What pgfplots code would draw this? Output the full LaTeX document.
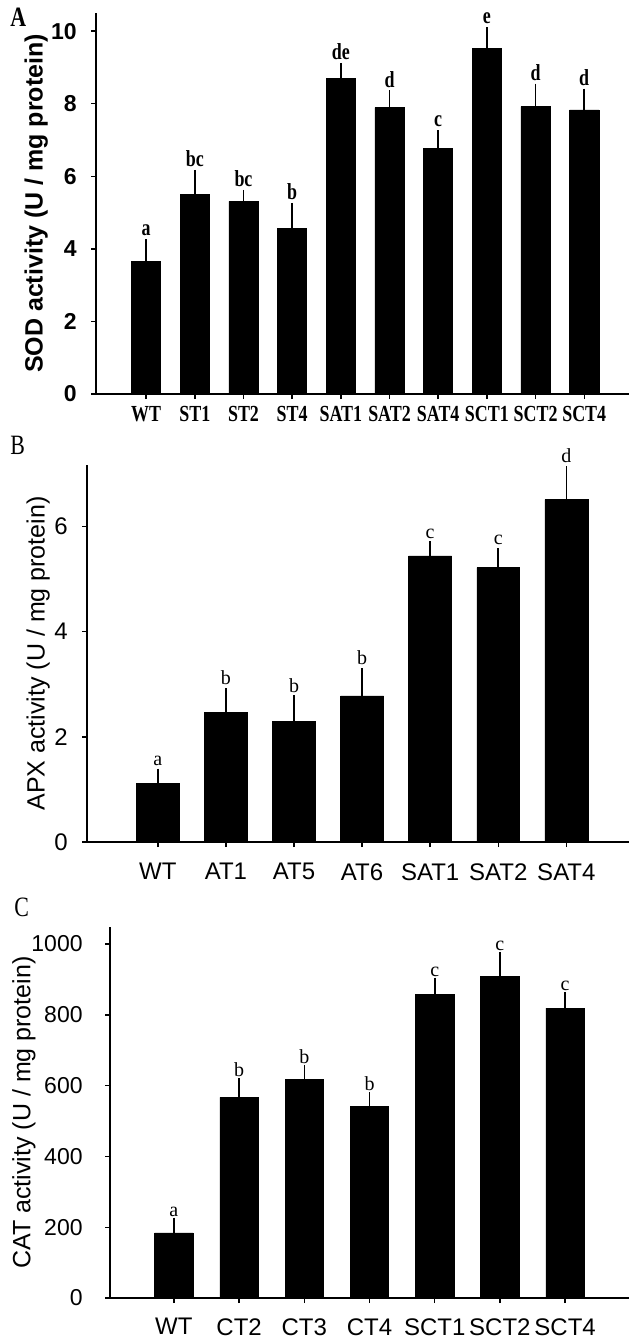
\documentclass[border=0pt]{standalone}
\usepackage{pgfplots}
\usepackage{pgfplotstable}
\pgfplotsset{compat=1.18}
\usepackage{fontspec}
\setmainfont{Liberation Sans}
\newfontfamily\serifN{Liberation Serif}[FakeStretch=0.78]
\newfontfamily\serifR{Liberation Serif}

\pgfplotstableread{
x y e t l
0 3.66 0.45 4.11 a
1 5.50 0.52 6.02 bc
2 5.31 0.16 5.47 bc
3 4.57 0.54 5.11 b
4 8.69 0.28 8.97 de
5 7.89 0.32 8.21 d
6 6.76 0.36 7.12 c
7 9.53 0.42 9.95 e
8 7.92 0.48 8.40 d
9 7.83 0.43 8.26 d
}\dataA

\pgfplotstableread{
x y e t l
0 1.11 0.18 1.29 a
1 2.47 0.35 2.82 b
2 2.30 0.38 2.68 b
3 2.78 0.42 3.20 b
4 5.44 0.17 5.61 c
5 5.22 0.26 5.48 c
6 6.51 0.53 7.04 d
}\dataB

\pgfplotstableread{
x y e t l
0 184 27 211 a
1 567 38 605 b
2 617 26 643 b
3 542 24 566 b
4 857 32 889 c
5 909 53 962 c
6 819 29 848 c
}\dataC

\pgfplotsset{
  panel/.style={
    scale only axis,
    axis lines*=left,
    axis line style={line width=0.7pt, black},
    tick align=outside,
    major tick length=2.5pt,
    tick style={line width=0.7pt, black},
    /pgf/number format/assume math mode=true,
    /pgf/number format/1000 sep={},
    ymin=0,
    xtick={0,...,9},
    clip=false,
  },
  barplot/.style={ybar, fill=black, draw=black, line width=0.3pt,
    error bars/y dir=plus, error bars/y explicit,
    error bars/error bar style={line width=0.8pt, black},
    error bars/error mark options={line width=0.8pt, mark size=2.8pt, black}},
  letters/.style={draw=none, mark=none, nodes near coords,
    point meta=explicit symbolic,
    every node near coord/.append style={anchor=base, inner sep=0pt, yshift=#1}},
}

\begin{document}
\begin{tikzpicture}
% Panel A
\begin{axis}[panel,
  at={(48pt,-197pt)}, anchor=south west,
  width=266.5pt, height=190.5pt,
  xmin=-1.03, xmax=9.92, ymax=10.5,
  ytick={0,2,4,6,8,10},
  xticklabels={WT,ST1,ST2,ST4,SAT1,SAT2,SAT4,SCT1,SCT2,SCT4},
  xticklabel style={font=\serifN\bfseries\fontsize{11.5}{13}\selectfont, inner sep=0pt, yshift=-3.5pt},
  yticklabel style={font=\bfseries\fontsize{11.5}{13}\selectfont, inner sep=0pt, xshift=-7pt},
  ylabel={SOD activity (U / mg protein)},
  ylabel style={font=\bfseries\fontsize{12.5}{15}\selectfont, at={(axis description cs:-0.112,0.5)}, anchor=center},
]
\addplot[barplot, bar width=0.6] table[x=x, y=y, y error=e] {\dataA};
\addplot[letters=4.5pt, nodes near coords style={font=\serifN\bfseries\fontsize{11.5}{13}\selectfont}] table[x=x, y=t, meta=l] {\dataA};
\end{axis}
% Panel B
\begin{axis}[panel,
  at={(43.5pt,-421pt)}, anchor=south west,
  width=271pt, height=188.5pt,
  xmin=-1.04, xmax=6.92, ymax=7.17,
  ytick={0,2,4,6},
  xticklabels={WT,AT1,AT5,AT6,SAT1,SAT2,SAT4},
  xticklabel style={font=\fontsize{12}{14}\selectfont, inner sep=0pt, yshift=-8pt},
  yticklabel style={font=\fontsize{12}{14}\selectfont, inner sep=0pt, xshift=-7pt},
  ylabel={APX activity (U / mg protein)},
  ylabel style={font=\fontsize{12.5}{14}\selectfont, at={(axis description cs:-0.090,0.5)}, anchor=center},
]
\addplot[barplot, bar width=0.63] table[x=x, y=y, y error=e] {\dataB};
\addplot[letters=4.5pt, nodes near coords style={font=\serifR\fontsize{10}{12}\selectfont}] table[x=x, y=t, meta=l] {\dataB};
\end{axis}
% Panel C
\begin{axis}[panel,
  at={(55pt,-649pt)}, anchor=south west,
  width=259.5pt, height=185.5pt,
  xmin=-0.98, xmax=6.98, ymax=1048,
  ytick={0,200,400,600,800,1000},
  xticklabel style={font=\fontsize{12}{14}\selectfont, inner sep=0pt, yshift=-7.5pt},
  xticklabels={WT,CT2,CT3,CT4,SCT1,SCT2,SCT4},
  yticklabel style={font=\fontsize{11.5}{13}\selectfont, inner sep=0pt, xshift=-11pt},
  ylabel={CAT activity (U / mg protein)},
  ylabel style={font=\fontsize{12.5}{14}\selectfont, at={(axis description cs:-0.166,0.5)}, anchor=center},
]
\addplot[barplot, bar width=0.59] table[x=x, y=y, y error=e] {\dataC};
\addplot[letters=3.5pt, nodes near coords style={font=\serifR\fontsize{10}{12}\selectfont}] table[x=x, y=t, meta=l] {\dataC};
\end{axis}
% panel letters
\node[font=\serifN\bfseries\fontsize{14}{16}\selectfont, anchor=north west, inner sep=0pt] at (5pt,-4pt) {A};
\node[font=\serifN\fontsize{14}{16}\selectfont, anchor=north west, inner sep=0pt] at (5pt,-218pt) {B};
\node[font=\serifN\fontsize{14}{16}\selectfont, anchor=north west, inner sep=0pt] at (7pt,-449pt) {C};
\pgfresetboundingbox
\path[use as bounding box] (0,0) rectangle (318pt,-671pt);
\end{tikzpicture}
\end{document}
